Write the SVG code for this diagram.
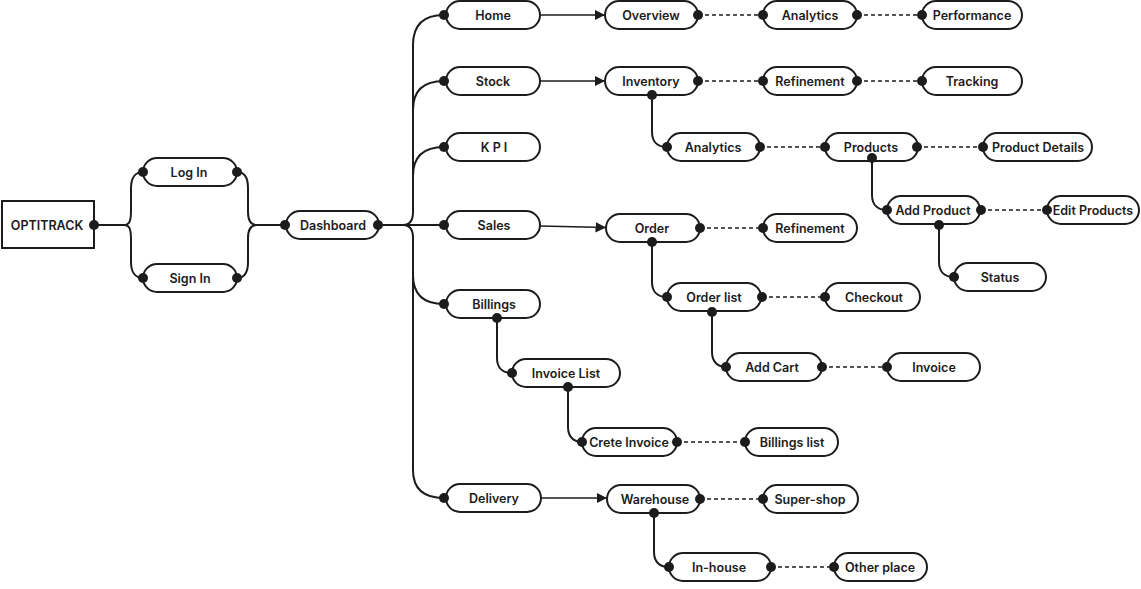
<svg xmlns="http://www.w3.org/2000/svg" width="1141" height="589" viewBox="0 0 1141 589">
<style>
.p{fill:#fff;stroke:#1c1c1c;stroke-width:2}
.t{font-family:Inter,"Liberation Sans",sans-serif;font-size:12.5px;font-weight:600;fill:#1c1c1c;text-anchor:middle;dominant-baseline:central}
.c{fill:none;stroke:#1c1c1c;stroke-width:2}
.d{fill:none;stroke:#1c1c1c;stroke-width:1.5;stroke-dasharray:4 3}
.a{fill:none;stroke:#1c1c1c;stroke-width:1.5;marker-end:url(#arr)}
.dot{fill:#1c1c1c}
</style>
<defs>
<marker id="arr" viewBox="0 0 10 10" refX="10" refY="5" markerWidth="7" markerHeight="7" orient="auto" markerUnits="strokeWidth"><path d="M0,0 L10,5 L0,10 z" fill="#1c1c1c"/></marker>
</defs>
<rect width="1141" height="589" fill="#fff"/>
<g id="connectors">
<path class="c" d="M94,225 L124,225 C130,225 131,220 131,210 L131,188 C131,177 136,172 143,172"/>
<path class="c" d="M94,225 L124,225 C130,225 131,230 131,240 L131,262 C131,273 136,278 143,278"/>
<path class="c" d="M237,172 C244,172 248,177 248,188 L248,212 C248,221 251,225 257,225 L284,225"/>
<path class="c" d="M237,278 C244,278 248,273 248,262 L248,238 C248,229 251,225 257,225"/>
<path class="c" d="M378,225 L403,225 C410,225 413,221 413,212 L413,45 C413,24 424,15 444,15"/>
<path class="c" d="M413,110 C413,90 424,81 444,81"/>
<path class="c" d="M413,176 C413,156 424,147 444,147"/>
<path class="c" d="M403,225 L444,225"/>
<path class="c" d="M403,225 C410,225 413,229 413,238 L413,275 C413,295 424,304 444,304"/>
<path class="c" d="M413,270 L413,470 C413,489 424,498 444,498"/>
<path class="a" d="M540,15 L605,15"/>
<path class="a" d="M540,81 L605,81"/>
<path class="a" d="M540,226 L606,227.5"/>
<path class="a" d="M541,498 L607,498"/>
<path class="d" d="M698,15 L763,15 M857,15 L922,15"/>
<path class="d" d="M698,81 L763,81 M857,81 L922,81"/>
<path class="d" d="M760,147 L825,147 M917,147 L983,147"/>
<path class="d" d="M981,210 L1047,210"/>
<path class="d" d="M700,228 L763,228"/>
<path class="d" d="M762,297 L825,297"/>
<path class="d" d="M822,367 L887,367"/>
<path class="d" d="M677,442 L745,442"/>
<path class="d" d="M700,499 L763,499"/>
<path class="d" d="M771,567 L834,567"/>
<path class="c" d="M652,95 L652,132 C652,142 658,147 667,147"/>
<path class="c" d="M872,158 L872,195 C872,205 878,210 887,210"/>
<path class="c" d="M939,225 L939,262 C939,272 945,277 954,277"/>
<path class="c" d="M652,242 L652,282 C652,292 658,297 667,297"/>
<path class="c" d="M712,312 L712,352 C712,362 718,367 726,367"/>
<path class="c" d="M497,318 L497,358 C497,368 503,373 512,373"/>
<path class="c" d="M568,387 L568,427 C568,437 574,442 582,442"/>
<path class="c" d="M654,513 L654,552 C654,562 660,567 668,567"/>
</g>
<g id="optitrack"><rect class="p" x="2" y="201" width="92" height="47"/><text class="t" x="47" y="225">OPTITRACK</text><circle class="dot" cx="94" cy="225" r="5"/></g>
<g id="login"><rect class="p" x="143" y="158" width="94" height="28" rx="14"/><text class="t" x="189" y="172">Log In</text><circle class="dot" cx="143" cy="172" r="5"/><circle class="dot" cx="237" cy="172" r="5"/></g>
<g id="signin"><rect class="p" x="143" y="264" width="94" height="28" rx="14"/><text class="t" x="190" y="278">Sign In</text><circle class="dot" cx="143" cy="278" r="5"/><circle class="dot" cx="237" cy="278" r="5"/></g>
<g id="dashboard"><rect class="p" x="286" y="211" width="93" height="28" rx="14"/><text class="t" x="333" y="225">Dashboard</text><circle class="dot" cx="285" cy="225" r="5"/><circle class="dot" cx="378" cy="225" r="5"/></g>
<g id="home"><rect class="p" x="446" y="1" width="94" height="28" rx="14"/><text class="t" x="493" y="15">Home</text><circle class="dot" cx="444" cy="15" r="5"/></g>
<g id="stock"><rect class="p" x="446" y="67" width="94" height="28" rx="14"/><text class="t" x="493" y="81">Stock</text><circle class="dot" cx="444" cy="81" r="5"/></g>
<g id="kpi"><rect class="p" x="446" y="133" width="94" height="28" rx="14"/><text class="t" x="494" y="147">K P I</text><circle class="dot" cx="444" cy="147" r="5"/></g>
<g id="sales"><rect class="p" x="446" y="211" width="94" height="28" rx="14"/><text class="t" x="494" y="225">Sales</text><circle class="dot" cx="444" cy="225" r="5"/></g>
<g id="billings"><rect class="p" x="446" y="290" width="94" height="28" rx="14"/><text class="t" x="494" y="304">Billings</text><circle class="dot" cx="444" cy="304" r="5"/><circle class="dot" cx="497" cy="318" r="5"/></g>
<g id="delivery"><rect class="p" x="446" y="484" width="95" height="28" rx="14"/><text class="t" x="494" y="498">Delivery</text><circle class="dot" cx="444" cy="498" r="5"/></g>
<g id="overview"><rect class="p" x="605" y="1" width="93" height="28" rx="14"/><text class="t" x="651" y="15">Overview</text><circle class="dot" cx="698" cy="15" r="5"/></g>
<g id="analytics1"><rect class="p" x="763" y="1" width="94" height="28" rx="14"/><text class="t" x="810" y="15">Analytics</text><circle class="dot" cx="763" cy="15" r="5"/><circle class="dot" cx="857" cy="15" r="5"/></g>
<g id="performance"><rect class="p" x="922" y="1" width="100" height="28" rx="14"/><text class="t" x="972" y="15">Performance</text><circle class="dot" cx="922" cy="15" r="5"/></g>
<g id="inventory"><rect class="p" x="605" y="67" width="93" height="28" rx="14"/><text class="t" x="651" y="81">Inventory</text><circle class="dot" cx="698" cy="81" r="5"/><circle class="dot" cx="652" cy="95" r="5"/></g>
<g id="refinement1"><rect class="p" x="763" y="67" width="94" height="28" rx="14"/><text class="t" x="810" y="81">Refinement</text><circle class="dot" cx="763" cy="81" r="5"/><circle class="dot" cx="857" cy="81" r="5"/></g>
<g id="tracking"><rect class="p" x="922" y="67" width="100" height="28" rx="14"/><text class="t" x="972" y="81">Tracking</text><circle class="dot" cx="922" cy="81" r="5"/></g>
<g id="analytics2"><rect class="p" x="667" y="133" width="93" height="28" rx="14"/><text class="t" x="713" y="147">Analytics</text><circle class="dot" cx="667" cy="147" r="5"/><circle class="dot" cx="760" cy="147" r="5"/></g>
<g id="products"><rect class="p" x="825" y="133" width="93" height="28" rx="14"/><text class="t" x="871" y="147">Products</text><circle class="dot" cx="825" cy="147" r="5"/><circle class="dot" cx="917" cy="147" r="5"/><circle class="dot" cx="872" cy="158" r="5"/></g>
<g id="productdetails"><rect class="p" x="983" y="133" width="109" height="28" rx="14"/><text class="t" x="1038" y="147">Product Details</text><circle class="dot" cx="983" cy="147" r="5"/></g>
<g id="addproduct"><rect class="p" x="887" y="196" width="93" height="28" rx="14"/><text class="t" x="933" y="210">Add Product</text><circle class="dot" cx="887" cy="210" r="5"/><circle class="dot" cx="981" cy="210" r="5"/><circle class="dot" cx="939" cy="225" r="5"/></g>
<g id="editproducts"><rect class="p" x="1047" y="196" width="92" height="28" rx="14"/><text class="t" x="1093" y="210">Edit Products</text><circle class="dot" cx="1047" cy="210" r="5"/></g>
<g id="status"><rect class="p" x="954" y="263" width="92" height="28" rx="14"/><text class="t" x="1000" y="277">Status</text><circle class="dot" cx="954" cy="277" r="5"/></g>
<g id="order"><rect class="p" x="606" y="214" width="94" height="28" rx="14"/><text class="t" x="652" y="228">Order</text><circle class="dot" cx="700" cy="228" r="5"/><circle class="dot" cx="652" cy="242" r="5"/></g>
<g id="refinement2"><rect class="p" x="763" y="214" width="94" height="28" rx="14"/><text class="t" x="810" y="228">Refinement</text><circle class="dot" cx="763" cy="228" r="5"/></g>
<g id="orderlist"><rect class="p" x="667" y="283" width="94" height="28" rx="14"/><text class="t" x="714" y="297">Order list</text><circle class="dot" cx="667" cy="297" r="5"/><circle class="dot" cx="762" cy="297" r="5"/><circle class="dot" cx="712" cy="312" r="5"/></g>
<g id="checkout"><rect class="p" x="825" y="283" width="95" height="28" rx="14"/><text class="t" x="874" y="297">Checkout</text><circle class="dot" cx="825" cy="297" r="5"/></g>
<g id="addcart"><rect class="p" x="726" y="353" width="96" height="28" rx="14"/><text class="t" x="772" y="367">Add Cart</text><circle class="dot" cx="726" cy="367" r="5"/><circle class="dot" cx="822" cy="367" r="5"/></g>
<g id="invoice"><rect class="p" x="887" y="353" width="93" height="28" rx="14"/><text class="t" x="934" y="367">Invoice</text><circle class="dot" cx="887" cy="367" r="5"/></g>
<g id="invoicelist"><rect class="p" x="512" y="359" width="108" height="28" rx="14"/><text class="t" x="566" y="373">Invoice List</text><circle class="dot" cx="512" cy="373" r="5"/><circle class="dot" cx="568" cy="387" r="5"/></g>
<g id="creteinvoice"><rect class="p" x="582" y="428" width="95" height="28" rx="14"/><text class="t" x="629" y="442">Crete Invoice</text><circle class="dot" cx="582" cy="442" r="5"/><circle class="dot" cx="677" cy="442" r="5"/></g>
<g id="billingslist"><rect class="p" x="745" y="428" width="93" height="28" rx="14"/><text class="t" x="792" y="442">Billings list</text><circle class="dot" cx="745" cy="442" r="5"/></g>
<g id="warehouse"><rect class="p" x="607" y="485" width="93" height="28" rx="14"/><text class="t" x="655" y="499">Warehouse</text><circle class="dot" cx="700" cy="499" r="5"/><circle class="dot" cx="654" cy="513" r="5"/></g>
<g id="supershop"><rect class="p" x="763" y="485" width="95" height="28" rx="14"/><text class="t" x="810" y="499">Super-shop</text><circle class="dot" cx="763" cy="499" r="5"/></g>
<g id="inhouse"><rect class="p" x="669" y="553" width="102" height="28" rx="14"/><text class="t" x="719" y="567">In-house</text><circle class="dot" cx="669" cy="567" r="5"/><circle class="dot" cx="771" cy="567" r="5"/></g>
<g id="otherplace"><rect class="p" x="834" y="553" width="93" height="28" rx="14"/><text class="t" x="880" y="567">Other place</text><circle class="dot" cx="834" cy="567" r="5"/></g>
</svg>
